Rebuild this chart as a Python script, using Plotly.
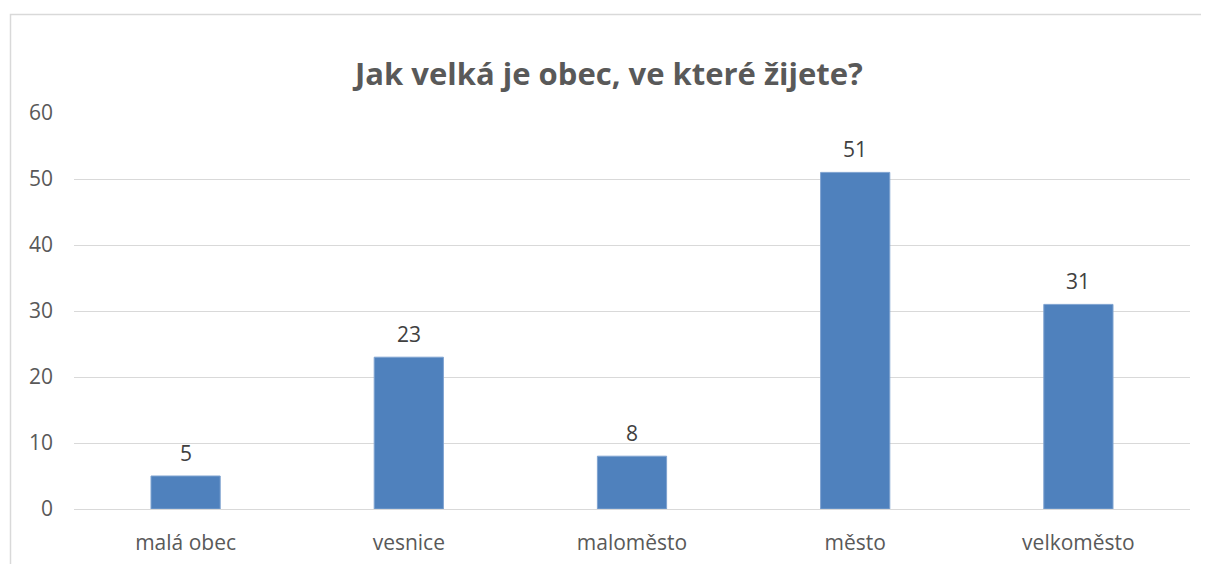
import plotly.graph_objects as go

categories = ["malá obec", "vesnice", "maloměsto", "město", "velkoměsto"]
values = [5, 23, 8, 51, 31]
y_ticks = [0, 10, 20, 30, 40, 50, 60]
title_text = "Jak velká je obec, ve které žijete?"

FONT = "Open Sans"
# page body has an 8px default margin, so the figure is offset by (8, 8)
W, H = 1201, 556
PL, PR, PT, PB = 66, 1182, 105, 501  # plot area in figure pixels
PW, PH = PR - PL, PB - PT

fig = go.Figure()
fig.add_trace(go.Bar(
    x=categories, y=values,
    marker=dict(color="#4F81BD", line=dict(color="#7FA3D0", width=1)),
    cliponaxis=False,
))

annotations = [
    dict(x=c, y=v, xref="x", yref="y", text=str(v), showarrow=False,
         yanchor="bottom", yshift=7,
         font=dict(family=FONT, size=21, color="#404040"))
    for c, v in zip(categories, values)
]

fx0 = (10.5 - 8 - PL) / PW
fx1 = (W + 30 - PL) / PW
fy1 = (PB - (14.5 - 8)) / PH
frame_path = f"M {fx0},-0.3 L {fx0},{fy1} L {fx1},{fy1}"

fig.update_layout(
    width=W, height=H,
    margin=dict(l=PL, r=W - PR, t=PT, b=H - PB, pad=0, autoexpand=False),
    paper_bgcolor="white", plot_bgcolor="white",
    bargap=0.69,
    showlegend=False,
    annotations=annotations,
    title=dict(text="<b>" + title_text + "</b>", x=(609 - 8) / W, xanchor="center",
               y=1 - (74 - 8) / H, yanchor="middle", yref="container",
               font=dict(family=FONT, size=31, color="#595959")),
    xaxis=dict(showline=False, showgrid=False, ticks="", ticklabelstandoff=19,
               automargin=False,
               tickfont=dict(family=FONT, size=21, color="#595959")),
    yaxis=dict(range=[0, 60], tickvals=y_ticks, showgrid=True, gridcolor="#D9D9D9",
               gridwidth=1, zeroline=True, zerolinecolor="#D9D9D9", zerolinewidth=1,
               showline=False, ticks="", ticklabelstandoff=20, automargin=False,
               tickfont=dict(family=FONT, size=21, color="#595959")),
    shapes=[dict(type="path", xref="paper", yref="paper", path=frame_path,
                 line=dict(color="#D9D9D9", width=1.5), layer="below")],
)

fig.write_html("out.html")
